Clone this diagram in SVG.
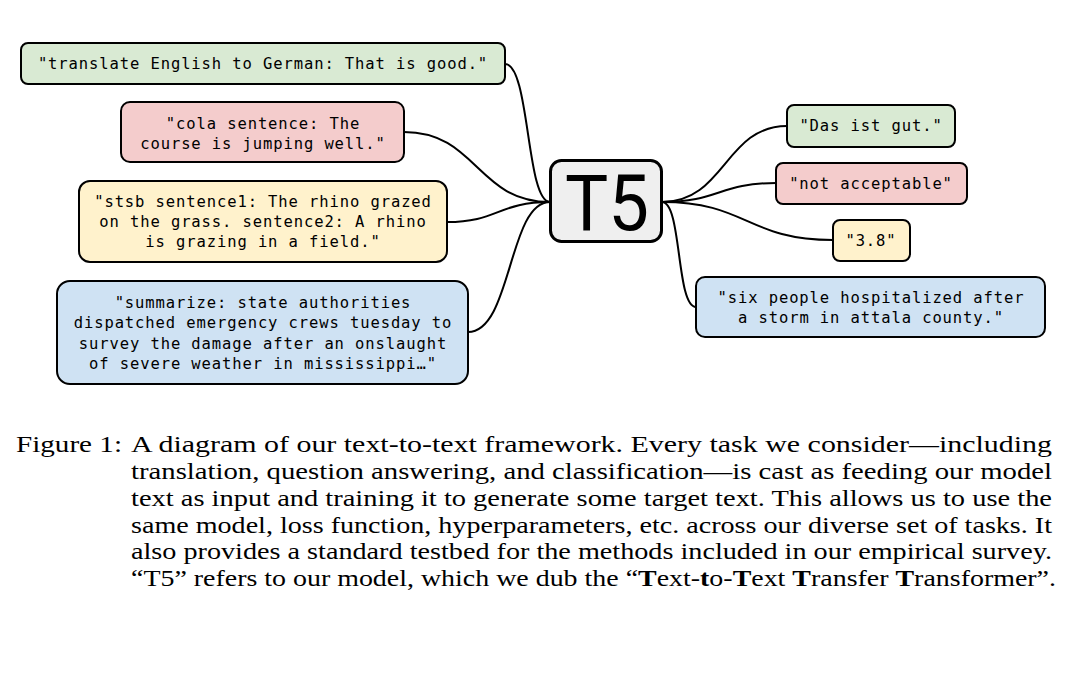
<svg xmlns="http://www.w3.org/2000/svg" width="1089" height="684" viewBox="0 0 1089 684">
<style>
.box{stroke:#000;stroke-width:2;}
.g{fill:#d9ead3}.r{fill:#f4cccc}.y{fill:#fff2cc}.b{fill:#cfe2f3}
.t{font-family:"DejaVu Sans Mono","Liberation Mono",monospace;font-size:15.5px;letter-spacing:0.9px;text-anchor:middle;fill:#000}
.c{fill:none;stroke:#000;stroke-width:2}
.cap{font-family:"Liberation Serif","DejaVu Serif",serif;font-size:23.5px;fill:#000}
</style>
<rect width="1089" height="684" fill="#fff"/>
<g id="connectors">
<path class="c" d="M505,64 C530,64 526,202 550,202"/>
<path class="c" d="M404,132 C477,132 477,202 550,202"/>
<path class="c" d="M447,222 C498,222 498,202 550,202"/>
<path class="c" d="M468,332 C512,332 508,202 550,202"/>
<path class="c" d="M662,202 C725,202 725,126 787,126"/>
<path class="c" d="M662,202 C719,202 719,183 776,183"/>
<path class="c" d="M662,202 C747,202 747,240 833,240"/>
<path class="c" d="M662,202 C682,202 676,307 696,307"/>
</g>
<g id="in1"><rect class="box g" x="21" y="43" width="484" height="41" rx="7"/>
<text class="t" x="263" y="69">"translate English to German: That is good."</text></g>
<g id="in2"><rect class="box r" x="121" y="102" width="283" height="60" rx="9"/>
<text class="t" x="263" y="129">"cola sentence: The</text>
<text class="t" x="263" y="149">course is jumping well."</text></g>
<g id="in3"><rect class="box y" x="79" y="181" width="368" height="81" rx="11"/>
<text class="t" x="263" y="207">"stsb sentence1: The rhino grazed</text>
<text class="t" x="263" y="227">on the grass. sentence2: A rhino</text>
<text class="t" x="263" y="247">is grazing in a field."</text></g>
<g id="in4"><rect class="box b" x="57" y="281" width="411" height="103" rx="13"/>
<text class="t" x="263" y="308">"summarize: state authorities</text>
<text class="t" x="263" y="328">dispatched emergency crews tuesday to</text>
<text class="t" x="263" y="349">survey the damage after an onslaught</text>
<text class="t" x="263" y="369">of severe weather in mississippi…"</text></g>
<g id="t5"><rect x="550.5" y="160.5" width="111" height="81" rx="11" fill="#efefef" stroke="#000" stroke-width="3"/>
<text x="607" y="230" font-family="Roboto,'Liberation Sans',sans-serif" font-size="78" text-anchor="middle" textLength="84" lengthAdjust="spacingAndGlyphs">T5</text></g>
<g id="out1"><rect class="box g" x="787" y="105" width="168" height="42" rx="7"/>
<text class="t" x="871" y="131">"Das ist gut."</text></g>
<g id="out2"><rect class="box r" x="776" y="163" width="191" height="41" rx="7"/>
<text class="t" x="871" y="189">"not acceptable"</text></g>
<g id="out3"><rect class="box y" x="833" y="220" width="77" height="41" rx="7"/>
<text class="t" x="871" y="246">"3.8"</text></g>
<g id="out4"><rect class="box b" x="696" y="277" width="349" height="60" rx="9"/>
<text class="t" x="871" y="303">"six people hospitalized after</text>
<text class="t" x="871" y="323">a storm in attala county."</text></g>
<g id="caption">
<text class="cap" x="16" y="452" textLength="106" lengthAdjust="spacingAndGlyphs">Figure 1:</text>
<text class="cap" x="131" y="452" textLength="921" lengthAdjust="spacingAndGlyphs">A diagram of our text-to-text framework.  Every task we consider—including</text>
<text class="cap" x="131" y="479" textLength="921" lengthAdjust="spacingAndGlyphs">translation, question answering, and classification—is cast as feeding our model</text>
<text class="cap" x="131" y="506" textLength="921" lengthAdjust="spacingAndGlyphs">text as input and training it to generate some target text.  This allows us to use the</text>
<text class="cap" x="131" y="533" textLength="921" lengthAdjust="spacingAndGlyphs">same model, loss function, hyperparameters, etc. across our diverse set of tasks.  It</text>
<text class="cap" x="131" y="559" textLength="921" lengthAdjust="spacingAndGlyphs">also provides a standard testbed for the methods included in our empirical survey.</text>
<text class="cap" x="131" y="586" textLength="925" lengthAdjust="spacingAndGlyphs">“T5” refers to our model, which we dub the “<tspan font-weight="bold">T</tspan>ext-<tspan font-weight="bold">t</tspan>o-<tspan font-weight="bold">T</tspan>ext <tspan font-weight="bold">T</tspan>ransfer <tspan font-weight="bold">T</tspan>ransformer”.</text>
</g>
</svg>
